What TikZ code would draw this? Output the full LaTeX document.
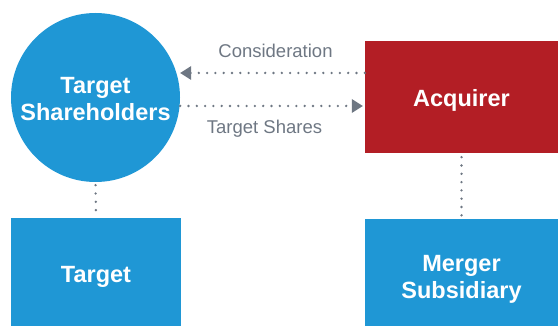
\documentclass[tikz,border=0pt]{standalone}
\usepackage{fontspec}
\setmainfont{Liberation Sans}
\usetikzlibrary{arrows.meta}
\definecolor{cblue}{HTML}{1F97D5}
\definecolor{cred}{HTML}{B31E25}
\definecolor{cgray}{HTML}{6E7783}
\newcommand{\lowered}[2]{\raisebox{-#1}[\height][\depth]{\begin{tabular}{@{}c@{}}#2\end{tabular}}}
\tikzset{
  box/.style={draw=none, fill=#1, text=white, font=\bfseries\fontsize{23.5}{26.5}\selectfont, align=center, inner sep=0pt},
  dotline/.style={draw=cgray, line width=2.6pt, line cap=round, dash pattern=on 0pt off 8.3pt},
  lbl/.style={text=cgray, font=\fontsize{18.5}{22}\selectfont, anchor=base, inner sep=0pt},
}
\begin{document}
\begin{tikzpicture}[x=1pt,y=-1pt]
\useasboundingbox (0,0) rectangle (558,326);
\node[box=cblue, circle, minimum size=169pt] (ts) at (95.5,97.5) {\lowered{4pt}{Target\\Shareholders}};
\node[box=cblue, minimum width=170pt, minimum height=108pt] (tg) at (96,272) {\lowered{5pt}{Target}};
\node[box=cred, minimum width=193pt, minimum height=112pt] (acq) at (461.5,97) {\lowered{4pt}{Acquirer}};
\node[box=cblue, minimum width=193pt, minimum height=107pt] (ms) at (461.5,272.5) {\lowered{7pt}{Merger\\Subsidiary}};
\coordinate (ya) at (0,73);
\coordinate (yb) at (0,106);
\draw[dotline] (acq.west |- ya) -- ([xshift=8pt]ts.east |- ya);
\fill[cgray] (ts.east |- ya) -- ++(11,-7) -- ++(0,14) -- cycle;
\draw[dotline] (ts.east |- yb) -- ([xshift=-10pt]acq.west |- yb);
\fill[cgray] ([xshift=-2pt]acq.west |- yb) -- ++(-11,-7) -- ++(0,14) -- cycle;
\draw[dotline, shorten >=6pt, shorten <=3pt] (ts.south) -- (tg.north);
\draw[dotline, shorten >=1pt, shorten <=4pt] (acq.south) -- (ms.north);
\node[lbl] (l1) at (275.5,58) {Consideration};
\node[lbl] (l2) at (264.5,134) {Target Shares};
\end{tikzpicture}
\end{document}
